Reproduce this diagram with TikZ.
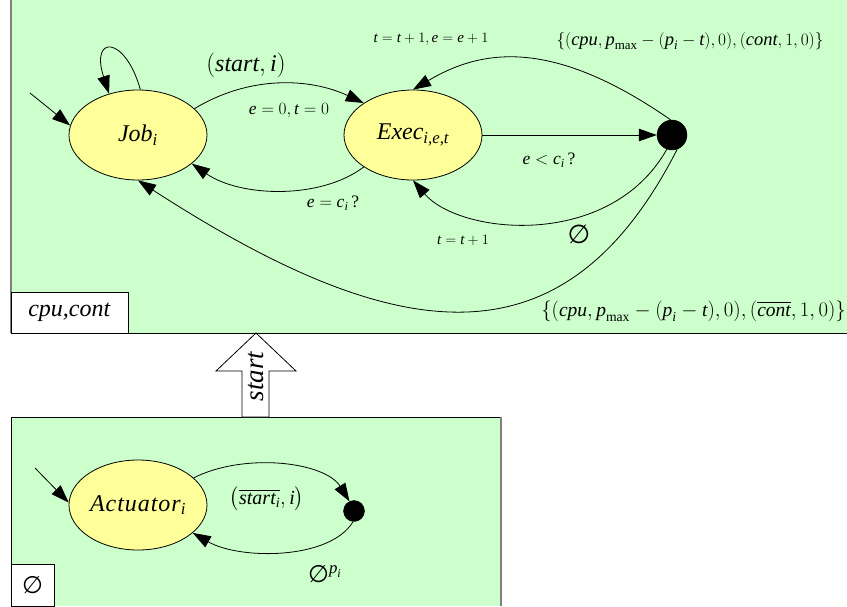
\documentclass[tikz,border=0pt]{standalone}
\usepackage{amsmath,amssymb}
\usepackage{fontspec}
\setmainfont{Liberation Serif}
\newfontfamily\symf{DejaVu Sans}
\usetikzlibrary{arrows.meta,shapes.geometric}
\definecolor{boxgreen}{RGB}{204,255,204}
\definecolor{stateyellow}{RGB}{255,255,153}
\newcommand{\V}[1]{\textit{#1}}
\newcommand{\ES}{{\symf\textup{∅}}}
\tikzset{
  state/.style={ellipse, draw, fill=stateyellow, minimum width=138pt, minimum height=90pt, inner sep=0pt, line width=0.8pt, font=\fontsize{24}{27}\selectfont},
  dotnode/.style={circle, fill=black, draw=black, inner sep=0pt},
  arr/.style={line width=0.8pt, -{Triangle[length=18pt,width=12.5pt]}},
  lbl/.style={inner sep=0pt, font=\fontsize{15}{18}\selectfont},
  midlbl/.style={inner sep=0pt, font=\fontsize{17.5}{20}\selectfont},
  biglbl/.style={inner sep=0pt, font=\fontsize{24}{28}\selectfont},
  setlbl/.style={inner sep=0pt, font=\fontsize{18.5}{22}\selectfont},
  tagbox/.style={draw=black, fill=white, line width=0.8pt, inner sep=0pt}
}
\begin{document}
\begin{tikzpicture}[x=1pt,y=-1pt]
\useasboundingbox (0,0) rectangle (847,606);
\fill[white] (0,0) rectangle (847,606);
% top green box
\fill[boxgreen] (11,0) rectangle (847,333);
\draw[gray, line width=1.6pt] (11,0) -- (11,333);
\draw[black, line width=0.9pt] (11,333) -- (847,333);
% bottom green box
\fill[boxgreen] (11,417) rectangle (501,606);
\draw[black, line width=0.9pt] (11,606) -- (11,417) -- (501,417);
\draw[gray, line width=1.6pt] (501,417) -- (501,606);
% tag boxes
\node[tagbox, minimum width=117pt, minimum height=41pt, font=\fontsize{24}{26}\selectfont] (tagtop) at (69.5,312.5) {\V{cpu,cont}};
\node[tagbox, minimum width=43pt, minimum height=42pt, font=\fontsize{24}{26}\selectfont] (tagbot) at (32.5,585) {\ES};
% big arrow
\draw[fill=white, line width=0.8pt] (256,333) -- (296,371) -- (269,371) -- (269,417) -- (242,417) -- (242,371) -- (216,371) -- cycle;
\node[rotate=90, inner sep=0pt, font=\fontsize{27}{30}\selectfont] (startlbl) at (256,376) {\V{start}};
% states
\node[state] (job) at (138,135) {$\V{Job}_{\V{i}}$};
\node[state] (exec) at (413,135) {$\V{Exec}_{\V{i,e,t}}$};
\node[dotnode, minimum size=30pt] (dot) at (672,135) {};
\node[state] (act) at (138,505) {$\text{\addfontfeature{LetterSpace=4}\itshape Actuator}_{\V{i}}$};
\node[dotnode, minimum size=21pt] (dot2) at (354,511) {};
% initial arrows
\coordinate (jobinit) at (30,93);
\coordinate (actinit) at (35,468);
\draw[arr] (jobinit) -- (job.172);
\draw[arr] (actinit) -- (act.178);
% self loop
\draw[arr] (job.87) .. controls (125,35) and (90,35) .. (job.125);
% job -> exec
\draw[arr] (job.25) .. controls (250,75) and (310,78) .. (exec.147);
% exec -> job
\draw[arr] (exec.213) .. controls (320,200) and (240,197) .. (job.332);
% exec -> dot
\draw[arr] (exec.east) -- (dot.west);
% dot -> exec top
\draw[arr] (dot.95) .. controls (550,36) and (480,50) .. (exec.90);
% dot -> exec bottom
\draw[arr] (dot.250) .. controls (610,250) and (460,235) .. (exec.270);
% dot -> job bottom
\draw[arr] (dot.290) .. controls (565,369) and (400,350) .. (job.270);
% actuator edges
\draw[arr] (act.26) .. controls (245,452) and (325,462) .. (dot2.115);
\draw[arr] (dot2.265) .. controls (330,560) and (240,560) .. (act.333);
% labels
\node[biglbl] (l1) at (246,65) {$(\V{start},\V{i})$};
\node[midlbl] (l2) at (289,111) {$\V{e}=0,\V{t}=0$};
\node[lbl] (l3) at (431,39) {$\V{t}=\V{t}+1,\V{e}=\V{e}+1$};
\node[setlbl] (l4) at (690,41) {$\{(\V{cpu},\V{p}_{\textup{max}}-(\V{p}_{\V{i}}-\V{t}),0),(\V{cont},1,0)\}$};
\node[midlbl] (l5) at (549,160) {$\V{e}<\V{c}_{\V{i}}\,$?};
\node[midlbl] (l6) at (333,203) {$\V{e}=\V{c}_{\V{i}}\,$?};
\node[lbl] (l7) at (463,240) {$\V{t}=\V{t}+1$};
\node[inner sep=0pt, font=\fontsize{26}{28}\selectfont] (l8) at (579,234) {\ES};
\node[setlbl, font=\fontsize{19.5}{22}\selectfont, anchor=east] (l9) at (846,311) {$\{(\V{cpu},\V{p}_{\textup{max}}-(\V{p}_{\V{i}}-\V{t}),0),(\overline{\V{cont}},1,0)\}$};
\node[biglbl, font=\fontsize{20}{24}\selectfont] (l10) at (267,499) {$\bigl(\overline{\V{start}_{\V{i}}},\V{i}\bigr)$};
\node[inner sep=0pt, font=\fontsize{24}{26}\selectfont] (l11) at (325,574) {\ES$^{\V{p}_{\V{i}}}$};
\end{tikzpicture}
\end{document}
